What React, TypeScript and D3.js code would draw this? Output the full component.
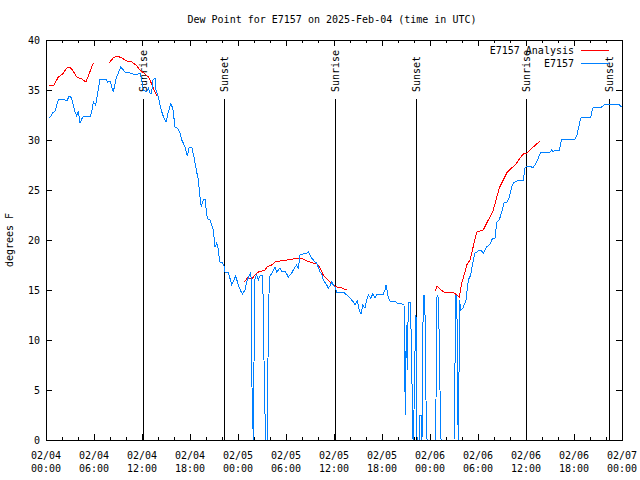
import React from "react";
import * as d3 from "d3";

// ---- data (hours since 02/04 00:00 UTC, dew point °F) ----
const xTickDates = ["02/04", "02/04", "02/04", "02/04", "02/05", "02/05", "02/05", "02/05", "02/06", "02/06", "02/06", "02/06", "02/07"];
const xTickTimes = ["00:00", "06:00", "12:00", "18:00", "00:00", "06:00", "12:00", "18:00", "00:00", "06:00", "12:00", "18:00", "00:00"];
const yTicks = [0, 5, 10, 15, 20, 25, 30, 35, 40];

const sunEventHours = [12.16, 22.29, 36.16, 46.29, 60.04, 70.34];
const sunEventLabels = ["Sunrise", "Sunset", "Sunrise", "Sunset", "Sunrise", "Sunset"];

const seriesNames = ["E7157 Analysis", "E7157"];
const seriesColors = ["#ff0000", "#0080ff"];

// analysis (null separates gaps)
const analysisSeries: ([number, number] | null)[] = [
  [0.44, 35.4], [1.0, 35.5], [1.54, 36.3], [2.09, 36.6], [2.59, 37.2], [3.0, 37.3], [3.38, 36.9],
  [3.84, 36.3], [4.46, 36.1], [5.0, 35.8], [5.38, 36.6], [5.91, 37.7],
  null,
  [7.88, 37.7], [8.41, 38.2], [8.91, 38.4], [9.46, 38.2], [10.09, 37.9], [10.71, 37.8], [11.25, 37.5],
  [11.75, 37.0], [12.38, 36.6], [12.79, 36.3], [13.0, 36.0], [13.41, 35.2], [13.84, 34.4],
  null,
  [24.79, 15.8], [25.29, 16.3], [25.5, 16.1], [25.84, 16.2], [26.13, 16.5], [26.54, 16.8], [27.38, 17.0],
  [27.63, 17.3], [28.21, 17.5], [28.63, 17.8], [29.25, 17.9], [30.13, 18.0], [30.91, 18.1], [31.54, 18.2],
  [32.13, 18.1], [32.59, 17.9], [33.41, 17.7], [33.88, 17.6], [34.25, 17.2], [34.66, 16.5], [35.09, 16.1],
  [35.5, 15.8], [35.91, 15.5], [36.34, 15.3], [36.96, 15.2], [37.59, 15.0],
  null,
  [48.63, 14.9], [48.91, 15.4], [49.25, 15.1], [49.88, 14.7], [50.5, 14.8], [50.88, 14.8], [51.34, 14.5],
  [51.66, 14.3], [51.96, 15.7], [52.38, 16.8], [52.59, 17.5], [53.0, 18.0], [53.25, 18.8], [53.5, 19.7],
  [53.84, 20.8], [54.66, 21.0], [55.09, 21.7], [55.5, 22.3], [55.84, 22.8], [56.25, 24.0], [56.66, 25.2],
  [57.16, 26.0], [57.66, 26.8], [58.34, 27.3], [58.84, 27.7], [59.25, 28.2], [59.66, 28.6], [60.09, 28.7],
  [60.91, 29.3], [61.75, 29.9],
];

const observedSeries: [number, number][] = [
  [0.44, 32.2], [0.84, 32.7], [1.13, 32.9], [1.54, 34.0], [2.16, 34.1], [2.59, 33.9], [2.91, 34.4],
  [3.2, 34.2], [3.63, 32.8], [3.84, 32.4], [4.04, 32.9], [4.25, 31.7], [4.59, 32.3], [5.0, 32.4],
  [5.5, 32.3], [5.71, 32.8], [5.91, 33.8], [6.21, 33.5], [6.46, 34.7], [6.75, 36.1], [7.5, 36.1],
  [7.71, 35.8], [8.0, 35.9], [8.41, 34.8], [8.75, 36.1], [9.04, 36.7], [9.34, 37.3], [9.88, 36.8],
  [10.5, 36.7], [11.34, 36.5], [11.75, 36.7], [11.96, 36.0], [12.16, 35.0], [12.59, 34.8], [12.79, 35.2],
  [13.0, 34.7], [13.21, 34.7], [13.34, 36.0], [13.63, 36.2], [13.75, 35.0], [14.04, 34.3], [14.25, 33.5],
  [14.59, 32.5], [15.0, 31.8], [15.29, 32.8], [15.59, 33.6], [15.84, 33.2], [16.13, 31.3], [16.54, 31.1],
  [16.75, 30.7], [16.96, 30.0], [17.16, 29.7], [17.38, 29.3], [17.66, 28.4], [17.91, 29.3], [18.25, 29.2],
  [18.5, 28.3], [18.84, 26.8], [19.04, 26.0], [19.25, 24.3], [19.41, 23.3], [19.66, 24.0], [19.88, 24.1],
  [20.09, 22.5], [20.21, 22.1], [20.5, 22.0], [20.71, 21.5], [20.91, 21.0], [21.13, 19.3], [21.34, 19.7],
  [21.5, 19.2], [21.63, 18.4], [21.75, 17.8], [22.09, 17.7], [22.25, 17.4], [22.38, 16.8], [22.79, 16.8],
  [23.21, 15.5], [23.5, 16.0], [23.71, 16.4], [24.04, 15.5], [24.34, 14.9], [24.56, 14.6], [24.88, 15.0],
  [25.09, 15.8], [25.41, 16.5], [25.56, 16.7], [25.63, 16.3], [25.75, 5.3], [25.91, 0], [26.0, 7.7],
  [26.13, 16.3], [26.34, 16.5], [26.54, 16.0], [26.75, 16.4], [27.09, 16.5], [27.25, 8.0], [27.44, 0],
  [27.63, 0], [27.75, 8.2], [27.91, 16.3], [28.25, 16.7], [28.63, 17.3], [28.84, 16.8], [29.25, 17.2],
  [29.46, 16.9], [29.88, 16.9], [30.29, 16.3], [30.71, 16.7], [31.13, 17.3], [31.34, 17.5], [31.54, 17.1],
  [31.75, 18.5], [32.16, 18.6], [32.59, 18.7], [32.79, 18.8], [33.0, 18.5], [33.21, 18.2], [33.63, 17.8],
  [33.84, 17.7], [34.25, 16.8], [34.46, 16.6], [34.66, 16.0], [35.09, 15.5], [35.29, 15.2], [35.5, 15.4],
  [35.71, 15.8], [35.91, 15.5], [36.13, 15.3], [36.34, 14.8], [37.16, 14.8], [37.59, 14.5], [38.0, 14.2],
  [38.41, 13.8], [38.63, 13.5], [38.91, 13.9], [39.16, 13.0], [39.38, 12.6], [39.59, 13.5], [39.88, 13.2],
  [40.09, 14.0], [40.29, 14.5], [40.59, 14.2], [40.84, 14.6], [41.13, 14.2], [41.41, 14.6], [42.16, 14.6],
  [42.38, 15.0], [42.5, 15.5], [42.63, 15.0], [42.79, 14.2], [43.0, 13.9], [43.63, 13.9], [43.84, 13.7],
  [44.46, 13.6], [44.75, 13.6], [44.91, 2.5], [45.04, 11.5], [45.16, 7.0], [45.29, 13.8], [45.5, 13.8],
  [45.63, 11.0], [45.88, 0], [46.0, 3.0], [46.13, 9.0], [46.25, 12.5], [46.38, 0], [46.63, 0],
  [46.69, 2.5], [46.88, 2.5], [47.0, 0], [47.13, 12.0], [47.25, 14.5], [47.38, 12.5], [47.5, 4.0],
  [47.63, 0], [48.63, 0], [48.75, 4.0], [48.88, 14.5], [49.0, 14.3], [49.13, 11.0], [49.25, 5.0],
  [49.38, 0], [51.0, 0], [51.09, 4.0], [51.16, 11.0], [51.25, 14.5], [51.38, 12.0], [51.44, 4.0],
  [51.54, 0], [51.63, 7.0], [51.69, 14.0], [51.84, 13.0], [52.13, 13.2], [52.5, 14.0], [52.79, 16.0],
  [53.09, 16.5], [53.41, 18.0], [53.63, 18.7], [53.88, 18.8], [54.16, 19.0], [54.46, 18.9], [54.66, 18.7],
  [55.09, 19.3], [55.5, 19.6], [55.84, 20.2], [56.13, 20.2], [56.34, 21.8], [56.66, 22.0], [56.96, 22.8],
  [57.25, 23.7], [57.66, 23.8], [57.91, 24.3], [58.21, 25.3], [58.41, 25.7], [58.84, 25.9], [59.25, 26.0],
  [59.66, 26.0], [59.88, 27.2], [60.09, 27.4], [60.5, 27.4], [60.84, 27.2], [61.13, 27.5], [61.54, 28.2],
  [61.84, 28.8], [63.0, 28.8], [63.21, 29.0], [63.41, 28.8], [63.63, 29.0], [64.16, 29.0], [64.46, 30.1],
  [66.13, 30.1], [66.34, 30.4], [66.84, 32.2], [67.16, 32.3], [68.09, 32.3], [68.34, 33.2], [68.63, 33.3],
  [69.46, 33.3], [69.88, 33.6], [71.54, 33.6], [71.96, 33.3],
];

const FONT = "'DejaVu Sans Mono', 'Liberation Mono', monospace";

export default function App() {
  const left = 46, right = 622, top = 40, bottom = 440;
  const x = d3.scaleLinear().domain([0, 72]).range([left, right]);
  const y = d3.scaleLinear().domain([0, 40]).range([bottom, top]);

  const line = d3
    .line<[number, number] | null>()
    .defined((d) => d !== null)
    .x((d) => x((d as [number, number])[0]))
    .y((d) => y((d as [number, number])[1]));

  const majorX = d3.range(0, 73, 6);
  const minorX = d3.range(0, 73, 2).filter((h) => h % 6 !== 0);

  return (
    <svg
      width={640}
      height={480}
      style={{ position: "absolute", left: 0, top: 0, background: "#fff" }}
      fontFamily={FONT}
      fontSize={10}
    >
      <rect x={0} y={0} width={640} height={480} fill="#fff" />
      {/* title */}
      <text x={332} y={23} textAnchor="middle" fill="#000">
        Dew Point for E7157 on 2025-Feb-04 (time in UTC)
      </text>
      {/* y label */}
      <text transform={`translate(13,${(top + bottom) / 2}) rotate(-90)`} textAnchor="middle" fill="#000">
        degrees F
      </text>

      {/* sun events */}
      {sunEventHours.map((h, i) => (
        <g key={"sun" + i}>
          <line x1={Math.round(x(h)) + 0.5} x2={Math.round(x(h)) + 0.5} y1={99} y2={bottom} stroke="#000" strokeWidth={1} />
          <text
            transform={`translate(${Math.round(x(h)) + 0.5},92) rotate(-90)`}
            dy="0.35em"
            textAnchor="start"
            fill="#000"
          >
            {sunEventLabels[i]}
          </text>
        </g>
      ))}

      {/* y ticks */}
      {yTicks.map((t) => (
        <g key={"y" + t} shapeRendering="crispEdges">
          <line x1={left} x2={left + 6} y1={y(t)} y2={y(t)} stroke="#000" />
          <line x1={right - 6} x2={right} y1={y(t)} y2={y(t)} stroke="#000" />
          <text x={40} y={y(t)} dy="0.35em" textAnchor="end" fill="#000">
            {t}
          </text>
        </g>
      ))}
      {/* x ticks */}
      {majorX.map((h, i) => (
        <g key={"x" + h} shapeRendering="crispEdges">
          <line x1={x(h)} x2={x(h)} y1={bottom} y2={bottom - 6} stroke="#000" />
          <line x1={x(h)} x2={x(h)} y1={top} y2={top + 6} stroke="#000" />
          <text x={x(h)} y={459} textAnchor="middle" fill="#000">
            {xTickDates[i]}
          </text>
          <text x={x(h)} y={472} textAnchor="middle" fill="#000">
            {xTickTimes[i]}
          </text>
        </g>
      ))}
      {minorX.map((h) => (
        <g key={"mx" + h} shapeRendering="crispEdges">
          <line x1={x(h)} x2={x(h)} y1={bottom} y2={bottom - 3} stroke="#000" />
          <line x1={x(h)} x2={x(h)} y1={top} y2={top + 3} stroke="#000" />
        </g>
      ))}

      {/* series */}
      <path d={line(analysisSeries) || ""} fill="none" stroke={seriesColors[0]} strokeWidth={1} shapeRendering="crispEdges" />
      <path d={line(observedSeries) || ""} fill="none" stroke={seriesColors[1]} strokeWidth={1} shapeRendering="crispEdges" />

      {/* border */}
      <rect
        x={left}
        y={top}
        width={right - left}
        height={bottom - top}
        fill="none"
        stroke="#000"
        strokeWidth={1}
        shapeRendering="crispEdges"
      />

      {/* legend */}
      {seriesNames.map((n, i) => (
        <g key={"leg" + i}>
          <text x={574} y={50 + i * 13} dy="0.35em" textAnchor="end" fill="#000">
            {n}
          </text>
          <line x1={581} x2={609} y1={50.5 + i * 13} y2={50.5 + i * 13} stroke={seriesColors[i]} strokeWidth={1} />
        </g>
      ))}
    </svg>
  );
}
